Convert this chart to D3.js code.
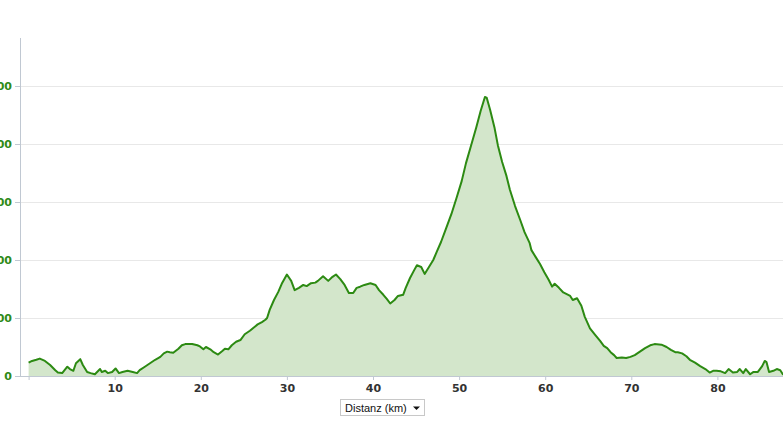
<!DOCTYPE html>
<html><head><meta charset="utf-8">
<script src="https://cdn.jsdelivr.net/npm/d3@7/dist/d3.min.js"></script>
<style>
html,body{margin:0;padding:0;background:#fff;overflow:hidden;}
svg{display:block;}
</style></head>
<body>
<svg id="chart" width="783" height="439"></svg>
<script>
const distanceKm = [0,0.4,0.9,1.3,1.9,2.5,3.1,3.4,3.9,4.5,4.8,5.2,5.5,6.0,6.3,6.8,7.2,7.7,8.1,8.3,8.5,8.9,9.2,9.7,10.1,10.5,10.9,11.5,12.1,12.6,12.9,13.5,14.1,14.7,15.3,15.7,16.1,16.4,16.8,17.4,17.8,18.2,19.0,19.6,19.9,20.3,20.6,21.1,21.5,22.0,22.5,22.8,23.2,23.6,24.1,24.6,25.1,25.7,26.2,26.6,27.1,27.5,27.7,28.0,28.5,29.0,29.4,30.0,30.5,30.9,31.4,31.9,32.3,32.8,33.3,33.6,34.2,34.8,35.3,35.7,36.2,36.7,37.2,37.7,38.1,38.5,39.0,39.7,40.3,40.7,41.2,41.6,42.0,42.5,42.9,43.5,43.8,44.3,44.8,45.1,45.6,46.0,46.5,47.0,47.4,47.9,48.5,49.1,49.7,50.3,50.8,51.4,52.0,52.5,53.0,53.2,53.6,54.1,54.5,55.0,55.5,55.9,56.5,57.1,57.6,58.2,58.4,58.9,59.4,59.9,60.4,60.8,61.1,61.6,62.1,62.5,62.9,63.2,63.7,64.2,64.6,65.2,65.8,66.4,66.8,67.2,67.6,68.0,68.3,68.9,69.4,69.9,70.4,71.0,71.6,72.2,72.7,73.5,74.1,74.6,75.1,75.4,75.9,76.4,76.8,77.4,78.0,78.6,79.1,79.5,79.9,80.4,80.9,81.3,81.8,82.3,82.6,83.0,83.3,83.8,84.2,84.7,85.2,85.5,85.7,86.0,86.5,86.9,87.3,87.6,88.0];
const elevationM = [23,26,28,30,26,19,10,6,5,16,12,9,22,29,19,7,5,3,9,12,7,9,5,7,13,5,7,9,7,5,10,16,22,28,33,39,42,41,40,47,53,55,55,53,51,46,50,46,41,37,43,47,46,53,59,62,72,78,84,89,93,97,100,114,131,145,159,175,164,148,152,157,155,160,161,164,172,164,171,175,167,157,143,143,152,154,157,160,157,148,140,133,125,131,138,140,152,169,183,191,188,176,188,200,214,231,255,279,307,336,367,398,429,457,481,480,459,429,398,369,345,321,293,269,248,229,217,205,193,179,166,154,159,152,144,141,138,131,134,121,102,82,71,60,52,48,41,36,31,32,31,33,36,42,48,53,55,54,50,45,41,41,39,34,28,23,17,12,6,9,9,8,5,12,6,7,12,5,12,3,7,7,17,26,24,7,9,12,10,3,2];
const xTickValues = [0,10,20,30,40,50,60,70,80];
const xTickLabels = ["","10","20","30","40","50","60","70","80"];
const yTickValues = [0,100,200,300,400,500];
const yTickLabels = ["0","100","200","300","400","500"];
const axisTitle = "Distanz (km)";

const svg = d3.select("#chart");
const W = 783, H = 439;
const x = d3.scaleLinear().domain([0, 10]).range([28.6, 114.7]);
const y = d3.scaleLinear().domain([0, 100]).range([376, 318]);
const plotLeft = 20, plotTop = 38, plotBottom = 376;

// gridlines
svg.append("g").selectAll("line").data(yTickValues.filter(v => v > 0)).join("line")
  .attr("x1", plotLeft).attr("x2", W)
  .attr("y1", d => y(d)).attr("y2", d => y(d))
  .attr("stroke", "#e8e8e8").attr("stroke-width", 1).attr("shape-rendering", "crispEdges");

const data = distanceKm.map((d, i) => ({ d, e: elevationM[i] }));

svg.append("path").datum(data)
  .attr("fill", "#d3e6cb")
  .attr("d", d3.area().x(p => x(p.d)).y0(y(0)).y1(p => y(p.e)));

// x axis
const xAxis = d3.axisBottom(x).tickValues(xTickValues)
  .tickFormat((d, i) => xTickLabels[i]).tickSize(4).tickPadding(4);
const gx = svg.append("g").attr("transform", `translate(0,${plotBottom})`).call(xAxis);
gx.select(".domain").remove();
gx.selectAll(".tick line").attr("stroke", "#c0c8d2");
gx.selectAll("text").attr("fill", "#333").attr("font-family", "DejaVu Sans, Verdana, sans-serif")
  .attr("font-weight", "bold").attr("font-size", 11);
svg.append("line").attr("x1", plotLeft).attr("x2", W).attr("y1", plotBottom + 0.5).attr("y2", plotBottom + 0.5)
  .attr("stroke", "#c0c8d2");

// y axis
svg.append("line").attr("x1", plotLeft + 0.5).attr("x2", plotLeft + 0.5).attr("y1", plotTop).attr("y2", plotBottom)
  .attr("stroke", "#c0c8d2");
const yAxis = d3.axisLeft(y).tickValues(yTickValues)
  .tickFormat((d, i) => yTickLabels[i]).tickSize(5).tickPadding(3);
const gy = svg.append("g").attr("transform", `translate(${plotLeft},0)`).call(yAxis);
gy.select(".domain").remove();
gy.selectAll(".tick line").attr("stroke", "#c0c8d2");
gy.selectAll("text").attr("fill", "#2f8a17").attr("font-family", "DejaVu Sans, Verdana, sans-serif")
  .attr("font-weight", "bold").attr("font-size", 11);

// line
svg.append("path").datum(data)
  .attr("fill", "none").attr("stroke", "#2c8a12").attr("stroke-width", 2).attr("stroke-linejoin", "round")
  .attr("d", d3.line().x(p => x(p.d)).y(p => y(p.e)));

// dropdown
const dd = svg.append("g");
dd.append("rect").attr("x", 340.5).attr("y", 399.5).attr("width", 84).attr("height", 16)
  .attr("fill", "#fff").attr("stroke", "#c8c8c8");
dd.append("text").attr("x", 345).attr("y", 411.5).text(axisTitle)
  .attr("font-family", "Liberation Sans, Arial, sans-serif").attr("font-size", 11).attr("fill", "#111");
dd.append("path").attr("d", "M413,406.5 L420,406.5 L416.5,410 Z").attr("fill", "#111");
</script>
</body></html>
